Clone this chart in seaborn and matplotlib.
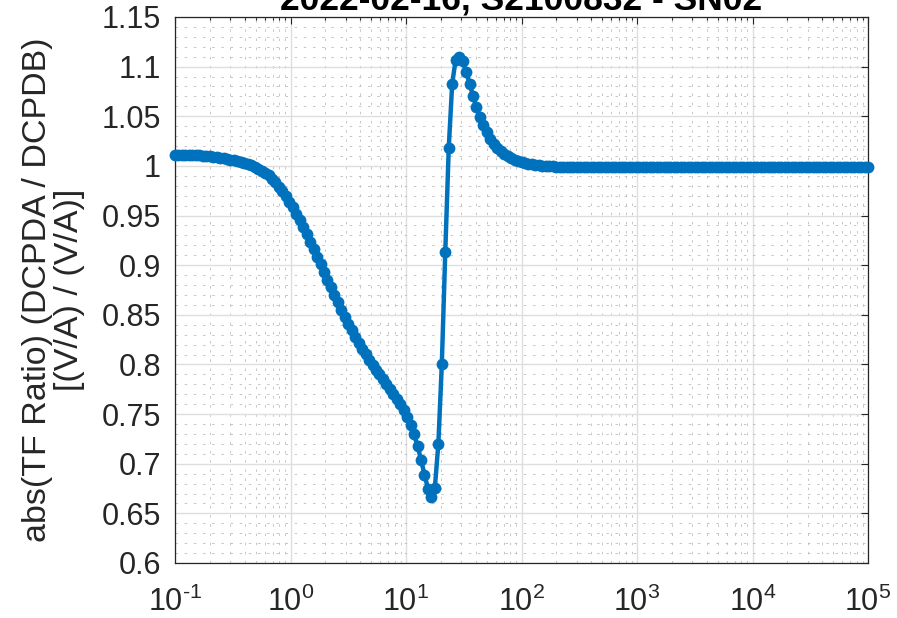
import numpy as np
import matplotlib
matplotlib.use("Agg")
import matplotlib.pyplot as plt
from matplotlib.ticker import LogLocator, MultipleLocator, FuncFormatter, NullFormatter
import seaborn as sns

# ---------------- data ----------------
title_text = "2022-02-16, S2100832 - SN02"
ylabel_text = "abs(TF Ratio) (DCPDA / DCPDB)\n[(V/A) / (V/A)]"

# swept-sine frequency grid (Hz): 201 log-spaced points, 0.1 Hz .. 100 kHz
freq_start_exp = -1
freq_stop_exp = 5
n_points = 201
freq = np.logspace(freq_start_exp, freq_stop_exp, n_points)

ratio = [
    1.0110, 1.0111, 1.0112, 1.0111, 1.0110, 1.0109, 1.0107, 1.0105, 1.0102, 1.0099,
    1.0096, 1.0092, 1.0088, 1.0083, 1.0077, 1.0071, 1.0064, 1.0056, 1.0048, 1.0039,
    1.0029, 1.0021, 1.0013, 0.9993, 0.9972, 0.9950, 0.9930, 0.9910, 0.9873, 0.9833,
    0.9790, 0.9744, 0.9694, 0.9640, 0.9582, 0.9520, 0.9455, 0.9385, 0.9312, 0.9238,
    0.9162, 0.9085, 0.9008, 0.8930, 0.8853, 0.8777, 0.8702, 0.8628, 0.8550, 0.8478,
    0.8410, 0.8343, 0.8278, 0.8216, 0.8157, 0.8101, 0.8048, 0.7997, 0.7948, 0.7900,
    0.7852, 0.7804, 0.7755, 0.7705, 0.7653, 0.7598, 0.7538, 0.7470, 0.7390, 0.7295,
    0.7180, 0.7040, 0.6890, 0.6750, 0.6665, 0.6760, 0.7200, 0.8000, 0.9130, 1.0180,
    1.0830, 1.1070, 1.1100, 1.1060, 1.0950, 1.0830, 1.0705, 1.0590, 1.0490, 1.0410,
    1.0340, 1.0275, 1.0222, 1.0180, 1.0147, 1.0120, 1.0098, 1.0080, 1.0064, 1.0051,
    1.0040, 1.0031, 1.0024, 1.0018, 1.0013, 1.0008, 1.0004, 1.0001, 0.9998, 0.9996,
    0.9994, 0.9993, 0.9992, 0.9991, 0.9990, 0.9990, 0.9989, 0.9989, 0.9988, 0.9988,
    0.9988, 0.9988, 0.9987, 0.9987, 0.9987, 0.9987, 0.9987, 0.9987, 0.9987, 0.9987,
    0.9987, 0.9987, 0.9987, 0.9987, 0.9986, 0.9986, 0.9986, 0.9986, 0.9986, 0.9986,
    0.9986, 0.9986, 0.9986, 0.9986, 0.9986, 0.9986, 0.9986, 0.9986, 0.9986, 0.9986,
    0.9986, 0.9986, 0.9986, 0.9986, 0.9986, 0.9986, 0.9986, 0.9986, 0.9986, 0.9986,
    0.9986, 0.9986, 0.9986, 0.9986, 0.9986, 0.9986, 0.9985, 0.9985, 0.9985, 0.9985,
    0.9985, 0.9985, 0.9985, 0.9985, 0.9985, 0.9985, 0.9985, 0.9985, 0.9985, 0.9985,
    0.9985, 0.9985, 0.9985, 0.9985, 0.9985, 0.9985, 0.9985, 0.9985, 0.9985, 0.9985,
    0.9985, 0.9985, 0.9985, 0.9985, 0.9985, 0.9985, 0.9985, 0.9985, 0.9985, 0.9985,
    0.9985,
]

x_limits = (1e-1, 1e5)
y_limits = (0.6, 1.15)

# ---------------- style ----------------
sns.set_style("white")
plt.rcParams["font.family"] = ["Liberation Sans", "DejaVu Sans"]
plt.rcParams["mathtext.fontset"] = "custom"
plt.rcParams["mathtext.rm"] = "Liberation Sans"
plt.rcParams["mathtext.it"] = "Liberation Sans:italic"
plt.rcParams["mathtext.bf"] = "Liberation Sans:bold"
plt.rcParams["mathtext.default"] = "regular"
plt.rcParams["axes.unicode_minus"] = False

line_color = "#0072BD"
axis_color = "#262626"


def log_label(v, p):
    e = int(round(np.log10(v)))
    if e < 0:
        return r"$10^{\text{-%d}}$" % (-e)
    return r"$10^{%d}$" % e


fig = plt.figure(figsize=(8.97, 6.18), dpi=100)
W, H = 897, 618
left, right, top, bottom = 175, 868, 17, 563
ax = fig.add_axes([left / W, 1 - bottom / H, (right - left) / W, (bottom - top) / H])
ax.set_xscale("log")

sns.lineplot(x=freq, y=ratio, ax=ax, color=line_color, linewidth=3.2,
             marker="o", markersize=8.5, markeredgewidth=0, errorbar=None,
             clip_on=False, zorder=3)

ax.set_xlim(*x_limits)
ax.set_ylim(*y_limits)

ax.xaxis.set_major_locator(LogLocator(base=10, numticks=20))
ax.xaxis.set_minor_locator(LogLocator(base=10, subs=np.arange(2, 10), numticks=100))
ax.xaxis.set_minor_formatter(NullFormatter())
ax.xaxis.set_major_formatter(FuncFormatter(log_label))
ax.yaxis.set_major_locator(MultipleLocator(0.05))
ax.yaxis.set_minor_locator(MultipleLocator(0.01))
ax.yaxis.set_major_formatter(FuncFormatter(lambda v, p: f"{v:g}"))

ax.set_axisbelow(True)
ax.grid(True, which="major", color="#DEDEDE", linewidth=1.0, linestyle="-")
ax.grid(True, which="minor", color="#BDBDBD", linewidth=0.6, linestyle=(0, (3, 8)))

for s in ax.spines.values():
    s.set_color(axis_color)
    s.set_linewidth(0.9)
    s.set_visible(True)

ax.tick_params(axis="both", which="both", direction="in", top=True, right=True,
               colors=axis_color, width=0.8)
ax.tick_params(axis="both", which="major", length=5, labelsize=22)
ax.tick_params(axis="x", which="minor", length=2.5)
ax.tick_params(axis="y", which="minor", length=0)
ax.tick_params(axis="x", which="major", pad=17)
ax.tick_params(axis="y", which="major", pad=10)

ax.set_title(title_text, fontsize=25.5, fontweight="bold", color="black", pad=5.5)
ax.set_ylabel(ylabel_text, fontsize=24.5, color=axis_color, linespacing=1.05)
ax.yaxis.set_label_coords(-0.13, 0.5)

fig.savefig("out.png", dpi=100)
